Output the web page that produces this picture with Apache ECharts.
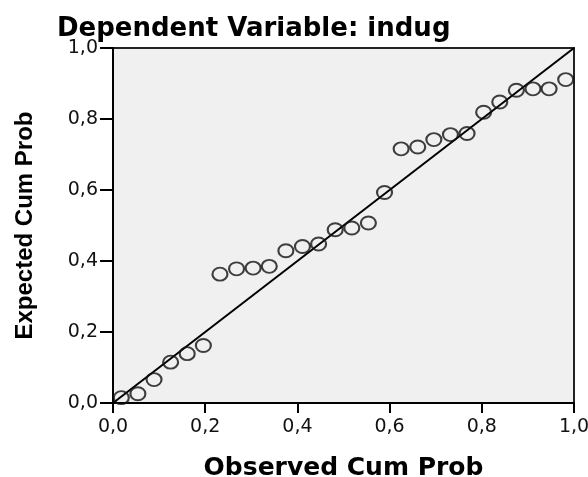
<!DOCTYPE html>
<html>
<head>
<meta charset="utf-8">
<script src="https://cdn.jsdelivr.net/npm/echarts@6/dist/echarts.min.js"></script>
<style>
html,body{margin:0;padding:0;background:#fff;}
#chart{width:588px;height:477px;}
</style>
</head>
<body>
<div id="chart"></div>
<script>
// Observed cumulative probability (x) and expected cumulative probability (y)
const observedCumProb = [0.018, 0.054, 0.089, 0.125, 0.161, 0.196, 0.232, 0.268, 0.304, 0.339,
  0.375, 0.411, 0.446, 0.482, 0.518, 0.554, 0.589, 0.625, 0.661, 0.696,
  0.732, 0.768, 0.804, 0.839, 0.875, 0.911, 0.946, 0.982];
const expectedCumProb = [0.015, 0.026, 0.066, 0.115, 0.139, 0.162, 0.363, 0.378, 0.380, 0.385,
  0.429, 0.441, 0.448, 0.488, 0.493, 0.507, 0.593, 0.716, 0.721, 0.742,
  0.756, 0.759, 0.819, 0.848, 0.881, 0.885, 0.885, 0.911];
// Reference diagonal
const diagonalX = [0, 1];
const diagonalY = [0, 1];
const tickValues = [0, 0.2, 0.4, 0.6, 0.8, 1.0];
const tickLabels = ['0,0', '0,2', '0,4', '0,6', '0,8', '1,0'];
const titleText = 'Dependent Variable: indug';
const xName = 'Observed Cum Prob';
const yName = 'Expected Cum Prob';

function fmt(v) {
  let best = 0, bd = Infinity;
  tickValues.forEach((t, i) => { const d = Math.abs(t - v); if (d < bd) { bd = d; best = i; } });
  return tickLabels[best];
}

const points = observedCumProb.map((x, i) => [x, expectedCumProb[i]]);
const diag = diagonalX.map((x, i) => [x, diagonalY[i]]);

const chart = echarts.init(document.getElementById('chart'), null, {renderer: 'canvas'});
const axisCommon = {
  type: 'value', min: 0, max: 1, interval: 0.2,
  axisLine: {show: true, lineStyle: {color: '#000', width: 2}},
  splitLine: {show: false},
  nameLocation: 'middle'
};
chart.setOption({
  animation: false,
  backgroundColor: '#ffffff',
  title: {
    text: titleText, left: 57, top: 16, padding: 0,
    textStyle: {fontFamily: 'DejaVu Sans', fontWeight: 'bold', fontSize: 26, color: '#000'}
  },
  grid: {
    left: 113, right: 14, top: 48, bottom: 74,
    containLabel: false, outerBoundsMode: 'none',
    show: true, backgroundColor: '#f0f0f0', borderColor: '#222', borderWidth: 2
  },
  xAxis: Object.assign({}, axisCommon, {
    axisTick: {show: true, length: 10, inside: false, lineStyle: {color: '#000', width: 2}},
    axisLabel: {margin: 15, fontFamily: 'DejaVu Sans', fontSize: 19, color: '#111', formatter: fmt},
    name: xName, nameGap: 53,
    nameTextStyle: {fontFamily: 'DejaVu Sans', fontWeight: 'bold', fontSize: 25, color: '#000'}
  }),
  yAxis: Object.assign({}, axisCommon, {
    axisTick: {show: true, length: 13, inside: false, lineStyle: {color: '#000', width: 2}},
    axisLabel: {margin: 15, fontFamily: 'DejaVu Sans', fontSize: 19, color: '#111', formatter: fmt},
    name: yName, nameGap: 76, nameRotate: 90,
    nameTextStyle: {fontFamily: 'Liberation Sans', fontWeight: 'bold', fontSize: 24, color: '#000'}
  }),
  series: [
    {
      type: 'line', data: diag, symbol: 'none', silent: true,
      lineStyle: {color: '#000', width: 2}, z: 2
    },
    {
      type: 'scatter', data: points, symbol: 'circle', symbolSize: [15, 13], silent: true,
      itemStyle: {color: 'rgba(0,0,0,0)', borderColor: '#111', borderWidth: 2}, z: 3
    }
  ]
});
</script>
</body>
</html>
